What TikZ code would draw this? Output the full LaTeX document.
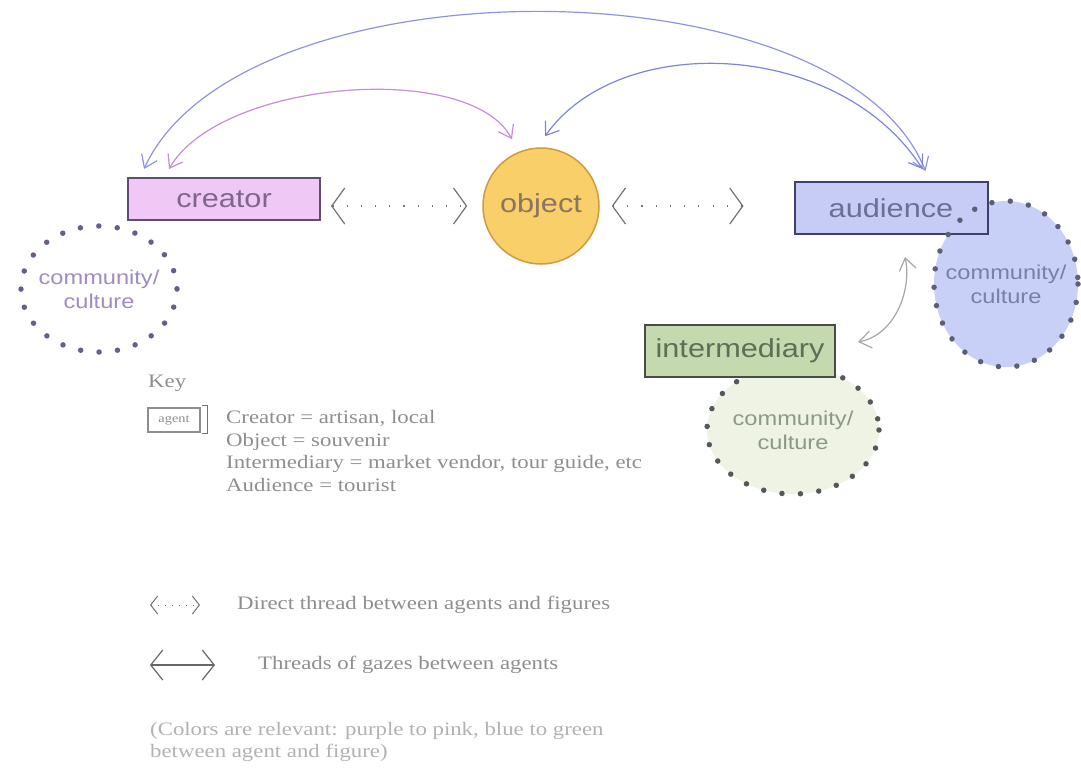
\documentclass[tikz,border=0pt]{standalone}
\usepackage{fontspec}
\setmainfont{Liberation Serif}
\newfontfamily\arialf[FakeStretch=1.18]{Liberation Sans}
\newfontfamily\keyf[FakeStretch=1.2]{Liberation Serif}
\usetikzlibrary{arrows.meta,backgrounds,shapes.geometric,calc}
\definecolor{creatorfill}{HTML}{F0C8F6}
\definecolor{creatordraw}{HTML}{5E4E70}
\definecolor{creatortext}{HTML}{7E6690}
\definecolor{audfill}{HTML}{C6CCF6}
\definecolor{auddraw}{HTML}{3C3F70}
\definecolor{audtext}{HTML}{6A6F94}
\definecolor{intfill}{HTML}{C4D9AE}
\definecolor{intdraw}{HTML}{4A4A4A}
\definecolor{inttext}{HTML}{5E6E58}
\definecolor{objfill}{HTML}{F8CF68}
\definecolor{objdraw}{HTML}{D39A3C}
\definecolor{objtext}{HTML}{8A7462}
\definecolor{ringL}{HTML}{6C5C8C}
\definecolor{ringR}{HTML}{5C5F7A}
\definecolor{ringG}{HTML}{55575A}
\definecolor{comRfill}{HTML}{C9D0F7}
\definecolor{comGfill}{HTML}{EEF3E4}
\definecolor{comLtext}{HTML}{A08CC0}
\definecolor{comRtext}{HTML}{7A7FA8}
\definecolor{comGtext}{HTML}{8A9A84}
\definecolor{arcA}{HTML}{8F93E0}
\definecolor{arcB}{HTML}{C48ED8}
\definecolor{arcC}{HTML}{7C84DC}
\definecolor{keygrey}{HTML}{8E8E8E}
\begin{document}
\begin{tikzpicture}[x=1pt,y=-1pt,
  agentbox/.style={rectangle, line width=2pt, font=\arialf\fontsize{26}{30}\selectfont, inner sep=0pt},
  commnode/.style={inner sep=0pt, align=center, font=\arialf\fontsize{20}{24}\selectfont},
  dotring/.style={line width=5.5pt, dash pattern=on 0pt off 18.5pt, line cap=round},
  gaze/.style={line width=1.2pt, {Straight Barb[length=12pt,width=17pt]}-{Straight Barb[length=12pt,width=17pt]}},
  dotlink/.style={draw=black!55, line width=1.2pt, dash pattern=on 1.2pt off 13pt,
     {Straight Barb[length=13pt,width=36pt]}-{Straight Barb[length=13pt,width=36pt]}},
  keytext/.style={text=keygrey, font=\keyf\fontsize{19}{22.5}\selectfont, inner sep=0pt},
]
\useasboundingbox (0,0) rectangle (1081,777);

% community labels
\node[commnode, text=comLtext] (comL) at (99,289) {community/\\culture};
\node[commnode, text=comRtext] (comR) at (1006,284) {community/\\culture};
\node[commnode, text=comGtext] (comG) at (793,430) {community/\\culture};

% community fills and hidden ring behind
\begin{scope}[on background layer]
\fill[comRfill] (comR.center) ellipse [x radius=72, y radius=83];
\fill[comGfill] (comG.center) ellipse [x radius=86, y radius=64];
\draw[dotring, draw=ringG] (comG.center) ellipse [x radius=86, y radius=64];
\end{scope}

% agents
\node[agentbox, fill=creatorfill, draw=creatordraw, text=creatortext, minimum width=192, minimum height=42] (creator) at (224,199) {creator};
\node[agentbox, fill=audfill, draw=auddraw, text=audtext, minimum width=193, minimum height=52] (audience) at (891,208) {audience};
\node[agentbox, fill=intfill, draw=intdraw, text=inttext, minimum width=190, minimum height=52] (intermediary) at (740,351) {intermediary};
\node[circle, minimum size=116, inner sep=0pt, fill=objfill, draw=objdraw, line width=1.5pt, text=objtext, font=\arialf\fontsize{26}{30}\selectfont] (object) at (541,206) {object};

\draw[dotring, draw=ringL] (comL.center) ellipse [x radius=78, y radius=63];
\draw[dotring, draw=ringR] (comR.center) ellipse [x radius=72, y radius=83];

% direct threads
\draw[dotlink] ($(creator.east |- object.west)+(10,0)$) -- ($(object.west)+(-15,0)$);
\draw[dotlink] ($(object.east)+(12,0)$) -- ($(audience.west |- object.east)+(-50,0)$);

% gazes
\draw[gaze, draw=arcA] ([shift={(17,-8)}]creator.north west) .. controls (240,-41) and (840,-41) .. ([shift={(-63,-10)}]audience.north east);
\draw[gaze, draw=arcB] ([shift={(42,-8)}]creator.north west) .. controls (220,80) and (470,60) .. ([shift={(-29,-8)}]object.north);
\draw[gaze, draw=arcC] ([shift={(4,-11)}]object.north) .. controls (620,30) and (840,40) .. ([shift={(-66,-12)}]audience.north east);
\draw[gaze, draw=black!35] ([shift={(22,-9)}]intermediary.east) .. controls (895,335) and (912,290) .. ([shift={(14,22)}]audience.south);

% key
\node[keytext, anchor=west] (keytitle) at (148,383) {Key};
\node[draw=keygrey, line width=1.2pt, minimum width=52, minimum height=24, inner sep=0pt, text=keygrey, font=\keyf\fontsize{12}{14}\selectfont] (agentkey) at (174,420) {agent};
\draw[draw=black!55, line width=1.5pt] ($(agentkey.north east)+(1,-2)$) -- ++(6,0) -- ++(0,28) -- ++(-6,0);
\node[keytext, anchor=west, align=left] (keylist) at (226,451) {Creator = artisan, local\\Object = souvenir\\Intermediary = market vendor, tour guide, etc\\Audience = tourist};

\coordinate (kda) at (150,605);
\coordinate (kdb) at (200,605);
\draw[draw=black!55, line width=1pt, dash pattern=on 1pt off 6pt, {Straight Barb[length=7pt,width=18pt]}-{Straight Barb[length=7pt,width=18pt]}] (kda) -- (kdb);
\node[keytext, anchor=west] (kdtext) at (237,605) {Direct thread between agents and figures};

\coordinate (kga) at (150,665);
\coordinate (kgb) at (215,665);
\draw[draw=black!60, line width=1.2pt, {Straight Barb[length=12pt,width=30pt]}-{Straight Barb[length=12pt,width=30pt]}] (kga) -- (kgb);
\node[keytext, anchor=west] (kgtext) at (258,665) {Threads of gazes between agents};

\node[keytext, anchor=west, align=left, text=black!30] (note) at (150,742) {(Colors are relevant: purple to pink, blue to green\\between agent and figure)};
\end{tikzpicture}
\end{document}
